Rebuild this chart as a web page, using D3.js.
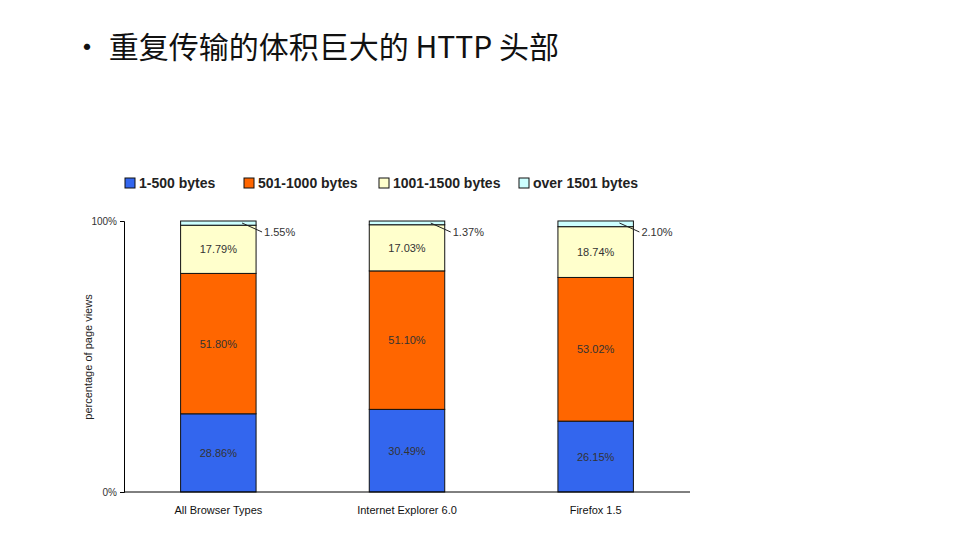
<!DOCTYPE html>
<html><head><meta charset="utf-8">
<script src="https://cdn.jsdelivr.net/npm/d3@7"></script>
<style>body{margin:0;background:#fff}</style>
</head><body>
<script>
const categories = ['All Browser Types', 'Internet Explorer 6.0', 'Firefox 1.5'];
const seriesNames = ['1-500 bytes', '501-1000 bytes', '1001-1500 bytes', 'over 1501 bytes'];
const small = [28.86, 30.49, 26.15];
const mid = [51.80, 51.10, 53.02];
const large = [17.79, 17.03, 18.74];
const huge = [1.55, 1.37, 2.10];
const yTicks = [0, 100];
const colors = ['#3366ee', '#ff6600', '#ffffcc', '#ccffff'];

const width = 971, height = 538;
const svg = d3.select('body').append('svg').attr('width', width).attr('height', height);

svg.append('text').attr('x', 72).attr('y', 58).attr('font-size', 30)
  .attr('font-family', '"Noto Sans CJK SC", sans-serif').attr('fill', '#111')
  .text('• 重复传输的体积巨大的 HTTP 头部');

const x = d3.scaleBand().domain(categories).range([124, 690]).paddingInner(0.6).paddingOuter(0.3);
const y = d3.scaleLinear().domain([0, 100]).range([492, 221]);

const series = [small, mid, large, huge];
const rows = categories.map((c, i) => {
  const r = {cat: c};
  seriesNames.forEach((s, j) => r[s] = series[j][i]);
  return r;
});
const stacked = d3.stack().keys(seriesNames)(rows);

const font = 'Arial, "Liberation Sans", sans-serif';

stacked.forEach((layer, j) => {
  const g = svg.append('g');
  g.selectAll('rect').data(layer).join('rect')
    .attr('x', d => x(d.data.cat)).attr('width', x.bandwidth())
    .attr('y', d => y(d[1])).attr('height', d => y(d[0]) - y(d[1]))
    .attr('fill', colors[j]).attr('stroke', '#111').attr('stroke-width', 1);
  if (j < 3) {
    g.selectAll('text').data(layer).join('text')
      .attr('x', d => x(d.data.cat) + x.bandwidth() / 2)
      .attr('y', d => (y(d[0]) + y(d[1])) / 2 + 4)
      .attr('text-anchor', 'middle').attr('font-size', 11).attr('font-family', font)
      .attr('fill', '#333').text(d => d.data[seriesNames[j]].toFixed(2) + '%');
  } else {
    g.selectAll('line').data(layer).join('line')
      .attr('x1', d => x(d.data.cat) + x.bandwidth() - 14).attr('y1', d => y(d[1]) + 2)
      .attr('x2', d => x(d.data.cat) + x.bandwidth() + 6).attr('y2', d => y(d[1]) + 11)
      .attr('stroke', '#222');
    g.selectAll('text').data(layer).join('text')
      .attr('x', d => x(d.data.cat) + x.bandwidth() + 8).attr('y', d => y(d[1]) + 15)
      .attr('font-size', 11).attr('font-family', font).attr('fill', '#333')
      .text(d => d.data[seriesNames[j]].toFixed(2) + '%');
  }
});

// axes
const yAxis = svg.append('g').attr('transform', 'translate(124,0)')
  .call(d3.axisLeft(y).tickValues(yTicks).tickSize(4).tickFormat(d => d + '%'));
yAxis.selectAll('text').attr('font-size', 10).attr('font-family', font).attr('fill', '#333');
const xAxis = svg.append('g').attr('transform', 'translate(0,492)')
  .call(d3.axisBottom(x).tickSize(0).tickPadding(14));
xAxis.select('.domain').attr('d', 'M124,0H690');
xAxis.selectAll('text').attr('font-size', 11).attr('font-family', font).attr('fill', '#111');

svg.append('text').attr('transform', 'translate(92,357) rotate(-90)')
  .attr('text-anchor', 'middle').attr('font-size', 11).attr('font-family', font)
  .attr('fill', '#222').text('percentage of page views');

// legend
const legX = [125, 244, 379, 519];
seriesNames.forEach((s, j) => {
  svg.append('rect').attr('x', legX[j]).attr('y', 178).attr('width', 10).attr('height', 10)
    .attr('fill', colors[j]).attr('stroke', '#111');
  svg.append('text').attr('x', legX[j] + 14).attr('y', 188).attr('font-size', 14)
    .attr('font-weight', 'bold').attr('font-family', font).attr('fill', '#222').text(s);
});
</script>
</body></html>
